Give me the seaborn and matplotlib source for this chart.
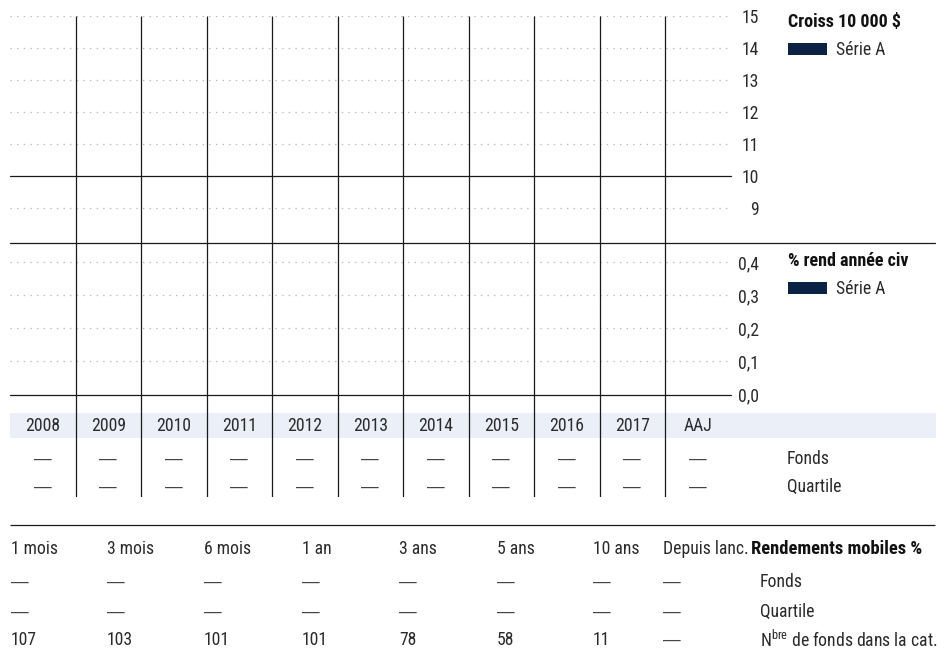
import matplotlib
matplotlib.use("Agg")
import matplotlib.pyplot as plt
from matplotlib import font_manager
from matplotlib.patches import Patch, Rectangle
from matplotlib.transforms import blended_transform_factory
from matplotlib.ticker import FuncFormatter
import numpy as np
import pandas as pd
import seaborn as sns

# ---- data -------------------------------------------------------------
years = ["2008", "2009", "2010", "2011", "2012", "2013", "2014",
         "2015", "2016", "2017", "AAJ"]
growth_ticks = [9, 10, 11, 12, 13, 14, 15]
return_ticks = [0.0, 0.1, 0.2, 0.3, 0.4]
series_name = "Série A"
annual_fund = [None] * len(years)
annual_quartile = [None] * len(years)
periods = ["1 mois", "3 mois", "6 mois", "1 an", "3 ans", "5 ans",
           "10 ans", "Depuis lanc."]
trailing_fund = [None] * len(periods)
trailing_quartile = [None] * len(periods)
funds_in_category = [107, 103, 101, 101, 78, 58, 11, None]

# ---- style ------------------------------------------------------------
sns.set_theme(style="white")
available = {f.name for f in font_manager.fontManager.ttflist}
family = next(f for f in ["Roboto Condensed", "Liberation Sans Narrow",
                          "Liberation Sans", "DejaVu Sans"] if f in available)
plt.rcParams["font.family"] = [family, "DejaVu Sans"]
plt.rcParams["font.weight"] = "normal"
plt.rcParams["mathtext.fontset"] = "custom"
plt.rcParams["mathtext.rm"] = family
plt.rcParams["mathtext.it"] = family
plt.rcParams["mathtext.bf"] = family + ":bold"

FS = 12.7
INK = "#2a2a2a"
RULE = "#1a1a1a"
NAVY = "#0b2244"
BAND = "#eaeff8"
DOT = "#b8b8b8"
DASH_FONT = ["Liberation Sans", "DejaVu Sans"]

W, H = 949, 649
fig = plt.figure(figsize=(W / 100, H / 100), dpi=100)


def fx(px):
    return px / W


def fy(py):
    return 1 - py / H


def cell(v):
    return "—" if v is None else str(v)


def cell_font(v):
    return DASH_FONT if v is None else [family, "DejaVu Sans"]


# geometry of the chart block (pixels)
LEFT, RIGHT = 10, 730.5
TOP, MID, BASE = 16, 243, 394.5

# table layer in pixel coordinates
tab = fig.add_axes([0, 0, 1, 1])
tab.set_xlim(0, W)
tab.set_ylim(H, 0)
tab.axis("off")

# ---- growth of 10 000 $ ------------------------------------------------
ax1 = fig.add_axes([fx(LEFT), fy(MID), (RIGHT - LEFT) / W, (MID - TOP) / H])
growth = pd.DataFrame({"Année": pd.Series(dtype=float),
                       "Valeur": pd.Series(dtype=float)})
sns.lineplot(data=growth, x="Année", y="Valeur", ax=ax1, color=NAVY)
ax1.set_xlim(0, len(years))
ax1.set_ylim(15 - (MID - TOP) / 32, 15)
for v in growth_ticks:
    if v == 10:
        ax1.axhline(v, color=RULE, lw=0.9, clip_on=False)
    else:
        ax1.axhline(v, color=DOT, lw=0.9, ls=(0, (1.1, 4.2)))

# ---- calendar-year returns --------------------------------------------
ax2 = fig.add_axes([fx(LEFT), fy(BASE), (RIGHT - LEFT) / W, (BASE - MID) / H])
ytop = (BASE - MID) / 330.5
ax2.set_xlim(0, len(years))
ax2.set_ylim(0, ytop)
for v in return_ticks[1:]:
    ax2.axhline(v, color=DOT, lw=0.9, ls=(0, (1.1, 4.2)))
ax2.axhline(0, color=RULE, lw=0.9, clip_on=False)
ax2.axhline(ytop, xmin=0, xmax=(935 - LEFT) / (RIGHT - LEFT),
            color=RULE, lw=0.9, clip_on=False)

for ax, ticks, fmt in [(ax1, growth_ticks, lambda v, p: f"{v:.0f}"),
                       (ax2, return_ticks,
                        lambda v, p: f"{v:.1f}".replace(".", ","))]:
    ax.set_xlabel("")
    ax.set_ylabel("")
    ax.set_xticks([])
    ax.yaxis.tick_right()
    ax.set_yticks(ticks)
    ax.yaxis.set_major_formatter(FuncFormatter(fmt))
    ax.tick_params(axis="y", length=0, pad=20.5, labelsize=FS,
                   labelcolor=INK)
    for lab in ax.get_yticklabels():
        lab.set_horizontalalignment("right")
    sns.despine(ax=ax, left=True, right=True, top=True, bottom=True)
    ax.patch.set_alpha(0)

# legends
for ax, title, top in [(ax1, "Croiss 10 000 $", 13),
                       (ax2, "% rend année civ", 252)]:
    leg = ax.legend(handles=[Patch(facecolor=NAVY, edgecolor="none",
                                   label=series_name)],
                    title=title, loc="upper left",
                    bbox_to_anchor=(fx(788), fy(top)),
                    bbox_transform=fig.transFigure,
                    frameon=False, alignment="left", fontsize=FS,
                    title_fontproperties={"weight": "bold", "size": FS + 0.3},
                    handlelength=2.2, handleheight=0.64,
                    handletextpad=0.5, borderpad=0, borderaxespad=0,
                    labelspacing=0.58)
    for t in leg.get_texts():
        t.set_color(INK)
    leg.get_title().set_color("#111111")

# ---- year band and annual table ---------------------------------------
tab.add_patch(Rectangle((10, 413), 926, 25, facecolor=BAND,
                        edgecolor="none", zorder=0))

grid = fig.add_axes([fx(LEFT), fy(497), (RIGHT - LEFT) / W, (497 - TOP) / H])
grid.set_xlim(0, len(years))
grid.set_ylim(0, 1)
grid.axis("off")
grid.vlines(np.arange(1, len(years)), 0, 1, color=RULE, lw=0.9)

col_y = blended_transform_factory(grid.transData, tab.transData)
for i, yr in enumerate(years):
    grid.text(i + 0.5, 426, yr, transform=col_y, ha="center", va="center",
              fontsize=FS, color=INK)
    for yy, v in [(459, annual_fund[i]), (487, annual_quartile[i])]:
        grid.text(i + 0.5, yy, cell(v), transform=col_y, ha="center",
                  va="center", fontsize=FS, color="#444444",
                  family=cell_font(v))
tab.text(787, 459, "Fonds", ha="left", va="center", fontsize=FS, color=INK)
tab.text(787, 487, "Quartile", ha="left", va="center", fontsize=FS, color=INK)

# ---- trailing returns table -------------------------------------------
tab.hlines(525, 10, 935, color=RULE, lw=0.9)
period_x = [11, 107, 204, 302, 399, 497, 593, 663]
for x, per, f, q, n in zip(period_x, periods, trailing_fund,
                           trailing_quartile, funds_in_category):
    tab.text(x, 549, per, ha="left", va="center", fontsize=FS, color=INK)
    for yy, v in [(582, f), (612, q), (640, n)]:
        tab.text(x, yy, cell(v), ha="left", va="center", fontsize=FS,
                 color="#444444" if v is None else INK, family=cell_font(v))
tab.text(751, 549, "Rendements mobiles %", ha="left", va="center",
         fontsize=FS + 0.6, fontweight="bold", color="#111111")
tab.text(760, 582, "Fonds", ha="left", va="center", fontsize=FS, color=INK)
tab.text(760, 612, "Quartile", ha="left", va="center", fontsize=FS, color=INK)
tab.text(760, 640, r"N$^{\mathregular{bre}}$ de fonds dans la cat.",
         ha="left", va="center", fontsize=FS, color=INK)

fig.savefig("out.png", dpi=100)
